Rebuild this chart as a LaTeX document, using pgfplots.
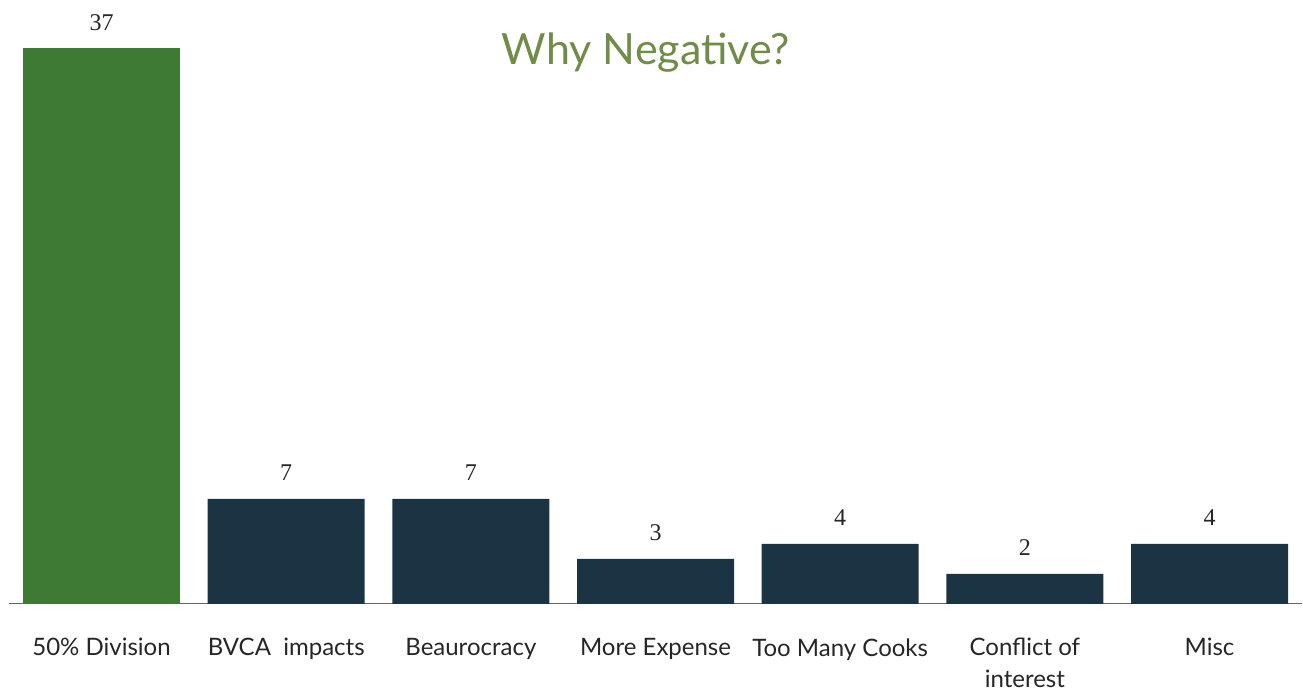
\documentclass[border=0pt]{standalone}
\usepackage{pgfplots}
\pgfplotsset{compat=1.18}
\usepackage{fontspec}
\setmainfont{Lato}
\newfontfamily\numfont{Liberation Serif}
\definecolor{bargreen}{RGB}{63,122,53}
\definecolor{barnavy}{RGB}{27,52,68}
\definecolor{titlegreen}{RGB}{112,140,70}
\begin{document}
\begin{tikzpicture}[x=1pt,y=1pt]
\path[use as bounding box] (0,0) rectangle (1303,692);
\begin{axis}[
  at={(9.2pt,88pt)}, anchor=south west,
  scale only axis, width=1292.7pt, height=601pt,
  xmin=-0.5, xmax=6.5, ymin=0, ymax=40,
  axis x line=bottom, axis y line=none,
  x axis line style={-, draw=gray!80!black, line width=1pt},
  xtick={0,...,6}, xtick style={draw=none}, ytick=\empty,
  xticklabels={50\% Division, BVCA\ \ impacts, Beaurocracy, More Expense, Too Many Cooks, {Conflict of\\interest}, Misc},
  xticklabel style={align=center, font=\fontsize{24}{32}\selectfont, inner sep=0pt, yshift=-30pt, text=black!85},
  ybar, bar width=157pt,
  nodes near coords,
  every node near coord/.append style={font=\numfont\fontsize{24}{24}\selectfont, /pgf/number format/assume math mode=true, anchor=base, inner sep=0pt, yshift=18pt, text=black!85},
  clip=false,
]
\addplot[fill=bargreen, draw=none, bar shift=0pt] coordinates {(0,37)};
\addplot[fill=barnavy, draw=none, bar shift=0pt] coordinates {(1,7) (2,7) (3,3) (4,4) (5,2) (6,4)};
\end{axis}
\node[font=\fontsize{43}{43}\selectfont, text=titlegreen, anchor=base] at (646,627) {Why Negative?};
\end{tikzpicture}
\end{document}
